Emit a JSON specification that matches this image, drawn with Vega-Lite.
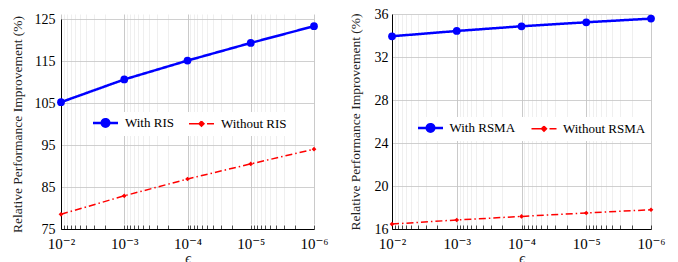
{
  "$schema": "https://vega.github.io/schema/vega-lite/v6.json",
  "padding": {"left": 10, "top": 7, "right": 0, "bottom": 0},
  "spacing": 19,
  "config": {
    "font": "Liberation Serif, DejaVu Serif, serif",
    "view": {"stroke": null},
    "axis": {
      "labelFont": "Liberation Serif, DejaVu Serif, serif",
      "labelFontSize": 14,
      "labelColor": "#000000",
      "titleFont": "Liberation Serif, DejaVu Serif, serif",
      "titleFontSize": 13.5,
      "titleFontWeight": "normal",
      "titleColor": "#222222",
      "domainColor": "#000000",
      "domainWidth": 1,
      "gridColor": "#c4c4c4",
      "gridWidth": 0.8
    },
    "legend": {
      "labelFont": "Liberation Serif, DejaVu Serif, serif",
      "labelFontSize": 13,
      "labelColor": "#000000"
    }
  },
  "resolve": {
    "scale": {"color": "independent"},
    "legend": {"color": "independent"}
  },
  "hconcat": [
    {
      "width": 253,
      "height": 215,
      "data": {"values": [
        {"eps": 0.01, "series": "With RIS", "value": 105.2},
        {"eps": 0.001, "series": "With RIS", "value": 110.6},
        {"eps": 0.0001, "series": "With RIS", "value": 115.1},
        {"eps": 0.00001, "series": "With RIS", "value": 119.3},
        {"eps": 0.000001, "series": "With RIS", "value": 123.3},
        {"eps": 0.01, "series": "Without RIS", "value": 78.5},
        {"eps": 0.001, "series": "Without RIS", "value": 82.9},
        {"eps": 0.0001, "series": "Without RIS", "value": 86.9},
        {"eps": 0.00001, "series": "Without RIS", "value": 90.5},
        {"eps": 0.000001, "series": "Without RIS", "value": 94.0}
      ]},
      "encoding": {
        "x": {
          "field": "eps", "type": "quantitative",
          "scale": {"type": "log", "domain": [0.01, 0.000001], "nice": false},
          "axis": {
            "title": "ϵ", "titleFontStyle": "italic", "titleFontSize": 14, "titlePadding": 0,
            "values": [0.01, 0.009, 0.008, 0.007, 0.006, 0.005, 0.004, 0.003, 0.002, 0.001, 0.0009, 0.0008, 0.0007, 0.0006, 0.0005, 0.0004, 0.0003, 0.0002, 0.0001, 0.00009, 0.00008, 0.00007, 0.00006, 0.00005, 0.00004, 0.00003, 0.00002, 0.00001, 0.000009, 0.000008, 0.000007, 0.000006, 0.000005, 0.000004, 0.000003, 0.000002, 0.000001],
            "labelExpr": "datum.value == 0.01 ? '10⁻²' : datum.value == 0.001 ? '10⁻³' : datum.value == 0.0001 ? '10⁻⁴' : datum.value == 0.00001 ? '10⁻⁵' : datum.value == 0.000001 ? '10⁻⁶' : ''",
            "labelFlush": false,
            "labelOverlap": false,
            "labelFontSize": 15,
            "labelPadding": 11,
            "tickSize": -4,
            "tickColor": "#000000",
            "tickWidth": 0.7,
            "gridColor": {"condition": {"test": "datum.value == 0.01 || datum.value == 0.001 || datum.value == 0.0001 || datum.value == 0.00001 || datum.value == 0.000001", "value": "#bcbcbc"}, "value": "#ebebeb"}
          }
        },
        "y": {
          "field": "value", "type": "quantitative",
          "scale": {"domain": [75, 125], "nice": false, "zero": false, "range": [215, 5]},
          "axis": {"title": "Relative Performance Improvement (%)", "values": [75, 85, 95, 105, 115, 125], "ticks": false, "labelPadding": 6, "titlePadding": 10}
        },
        "color": {
          "field": "series", "type": "nominal",
          "scale": {"domain": ["With RIS", "Without RIS"], "range": ["#0000ff", "#ff0000"]},
          "legend": {
            "title": null, "orient": "none", "direction": "horizontal",
            "legendX": 34, "legendY": 98,
            "fillColor": "#ffffff", "padding": 4,
            "labelOffset": 13, "columnPadding": 12,
            "encode": {"symbols": {"update": {
              "shape": {"signal": "datum.value == 'With RIS' ? 'M-1,0H1M0.3,0A0.3,0.3,0,1,1,-0.3,0A0.3,0.3,0,1,1,0.3,0Z' : 'M-1,0H1M0,-0.2L0.2,0L0,0.2L-0.2,0Z'"},
              "size": {"value": 625},
              "strokeWidth": {"signal": "datum.value == 'With RIS' ? 2.5 : 1.5"},
              "strokeDash": {"signal": "datum.value == 'With RIS' ? [1, 0] : [14, 4, 8, 4]"},
              "fillOpacity": {"value": 1},
              "strokeOpacity": {"value": 1},
              "opacity": {"value": 1}
            }}}
          }
        }
      },
      "layer": [
        {
          "mark": {"type": "line"},
          "encoding": {
            "strokeDash": {"condition": {"test": "datum.series == 'Without RIS'", "value": [7, 3, 1.5, 3]}, "value": [1, 0]},
            "strokeWidth": {"condition": {"test": "datum.series == 'Without RIS'", "value": 1.5}, "value": 2.5}
          }
        },
        {
          "mark": {"type": "point", "filled": true, "opacity": 1},
          "encoding": {
            "shape": {"condition": {"test": "datum.series == 'Without RIS'", "value": "diamond"}, "value": "circle"},
            "size": {"condition": {"test": "datum.series == 'Without RIS'", "value": 22}, "value": 60}
          }
        }
      ]
    },
    {
      "width": 259,
      "height": 215,
      "data": {"values": [
        {"eps": 0.01, "series": "With RSMA", "value": 33.93},
        {"eps": 0.001, "series": "With RSMA", "value": 34.42},
        {"eps": 0.0001, "series": "With RSMA", "value": 34.86},
        {"eps": 0.00001, "series": "With RSMA", "value": 35.23},
        {"eps": 0.000001, "series": "With RSMA", "value": 35.57},
        {"eps": 0.01, "series": "Without RSMA", "value": 16.46},
        {"eps": 0.001, "series": "Without RSMA", "value": 16.84},
        {"eps": 0.0001, "series": "Without RSMA", "value": 17.17},
        {"eps": 0.00001, "series": "Without RSMA", "value": 17.49},
        {"eps": 0.000001, "series": "Without RSMA", "value": 17.79}
      ]},
      "encoding": {
        "x": {
          "field": "eps", "type": "quantitative",
          "scale": {"type": "log", "domain": [0.01, 0.000001], "nice": false},
          "axis": {
            "title": "ϵ", "titleFontStyle": "italic", "titleFontSize": 14, "titlePadding": 0,
            "values": [0.01, 0.009, 0.008, 0.007, 0.006, 0.005, 0.004, 0.003, 0.002, 0.001, 0.0009, 0.0008, 0.0007, 0.0006, 0.0005, 0.0004, 0.0003, 0.0002, 0.0001, 0.00009, 0.00008, 0.00007, 0.00006, 0.00005, 0.00004, 0.00003, 0.00002, 0.00001, 0.000009, 0.000008, 0.000007, 0.000006, 0.000005, 0.000004, 0.000003, 0.000002, 0.000001],
            "labelExpr": "datum.value == 0.01 ? '10⁻²' : datum.value == 0.001 ? '10⁻³' : datum.value == 0.0001 ? '10⁻⁴' : datum.value == 0.00001 ? '10⁻⁵' : datum.value == 0.000001 ? '10⁻⁶' : ''",
            "labelFlush": false,
            "labelOverlap": false,
            "labelFontSize": 15,
            "labelPadding": 11,
            "tickSize": -4,
            "tickColor": "#000000",
            "tickWidth": 0.7,
            "gridColor": {"condition": {"test": "datum.value == 0.01 || datum.value == 0.001 || datum.value == 0.0001 || datum.value == 0.00001 || datum.value == 0.000001", "value": "#bcbcbc"}, "value": "#ebebeb"}
          }
        },
        "y": {
          "field": "value", "type": "quantitative",
          "scale": {"domain": [16, 36], "nice": false, "zero": false},
          "axis": {"title": "Relative Performance Improvement (%)", "values": [16, 20, 24, 28, 32, 36], "ticks": false, "labelPadding": 4, "titlePadding": 12}
        },
        "color": {
          "field": "series", "type": "nominal",
          "scale": {"domain": ["With RSMA", "Without RSMA"], "range": ["#0000ff", "#ff0000"]},
          "legend": {
            "title": null, "orient": "none", "direction": "horizontal",
            "legendX": 28, "legendY": 103,
            "fillColor": "#ffffff", "padding": 4,
            "labelOffset": 12.5, "columnPadding": 12.5,
            "encode": {"symbols": {"update": {
              "shape": {"signal": "datum.value == 'With RSMA' ? 'M-1,0H1M0.3,0A0.3,0.3,0,1,1,-0.3,0A0.3,0.3,0,1,1,0.3,0Z' : 'M-1,0H1M0,-0.2L0.2,0L0,0.2L-0.2,0Z'"},
              "size": {"value": 625},
              "strokeWidth": {"signal": "datum.value == 'With RSMA' ? 2.5 : 1.5"},
              "strokeDash": {"signal": "datum.value == 'With RSMA' ? [1, 0] : [14, 4, 8, 4]"},
              "fillOpacity": {"value": 1},
              "strokeOpacity": {"value": 1},
              "opacity": {"value": 1}
            }}}
          }
        }
      },
      "layer": [
        {
          "mark": {"type": "line"},
          "encoding": {
            "strokeDash": {"condition": {"test": "datum.series == 'Without RSMA'", "value": [7, 3, 1.5, 3]}, "value": [1, 0]},
            "strokeWidth": {"condition": {"test": "datum.series == 'Without RSMA'", "value": 1.5}, "value": 2.5}
          }
        },
        {
          "mark": {"type": "point", "filled": true, "opacity": 1},
          "encoding": {
            "shape": {"condition": {"test": "datum.series == 'Without RSMA'", "value": "diamond"}, "value": "circle"},
            "size": {"condition": {"test": "datum.series == 'Without RSMA'", "value": 22}, "value": 60}
          }
        }
      ]
    }
  ]
}
